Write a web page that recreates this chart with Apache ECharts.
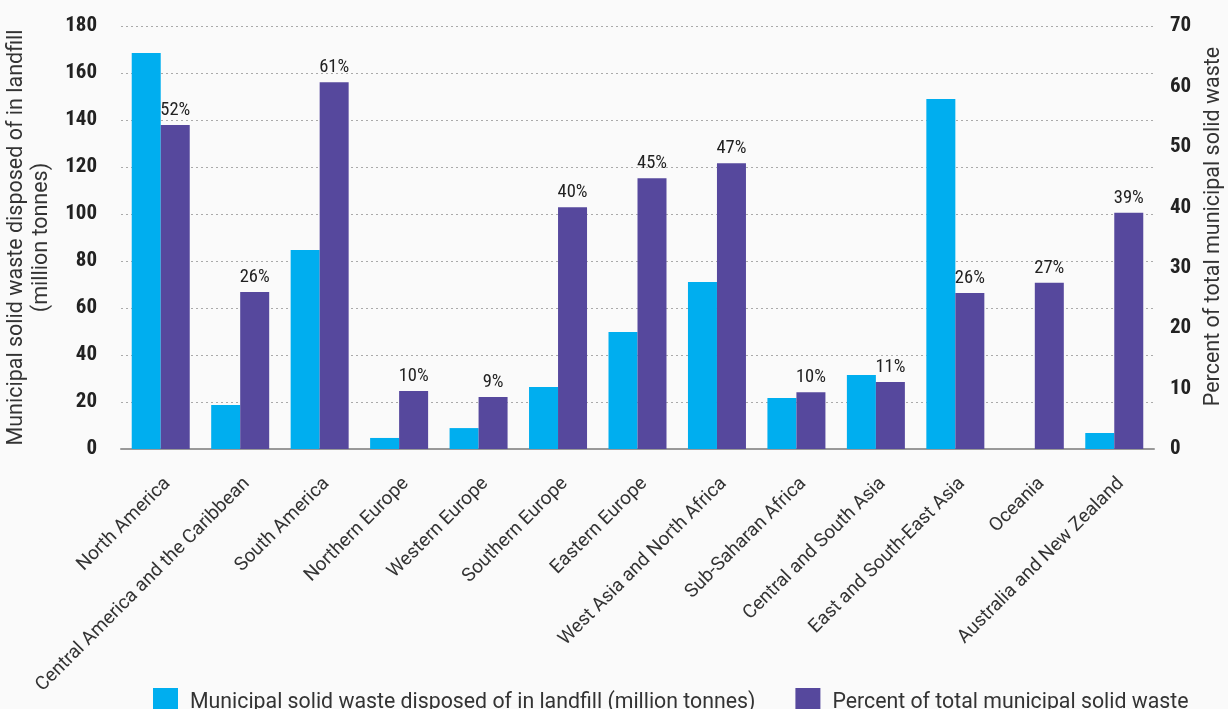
<!DOCTYPE html>
<html>
<head>
<meta charset="utf-8">
<script src="https://cdn.jsdelivr.net/npm/echarts@6/dist/echarts.min.js"></script>
<style>
html,body{margin:0;padding:0;background:#fafafa;}
#chart{width:1228px;height:709px;}
</style>
</head>
<body>
<div id="chart"></div>
<script>
const categories = ["North America","Central America and the Caribbean","South America","Northern Europe","Western Europe","Southern Europe","Eastern Europe","West Asia and North Africa","Sub-Saharan Africa","Central and South Asia","East and South-East Asia","Oceania","Australia and New Zealand"];
const landfillTonnes = [168.5, 18.7, 84.7, 4.7, 8.9, 26.4, 49.8, 71.1, 21.7, 31.5, 148.9, null, 6.8];
const percentValues = [53.6, 26.0, 60.7, 9.6, 8.6, 40.0, 44.8, 47.3, 9.4, 11.1, 25.8, 27.5, 39.1];
const percentLabels = ["52%","26%","61%","10%","9%","40%","45%","47%","10%","11%","26%","27%","39%"];
const leftTicks = [0, 20, 40, 60, 80, 100, 120, 140, 160, 180];
const rightTicks = [0, 10, 20, 30, 40, 50, 60, 70];
const seriesNames = ["Municipal solid waste disposed of in landfill (million tonnes)", "Percent of total municipal solid waste"];

const narrow = "'Roboto Condensed','Liberation Sans Narrow','DejaVu Sans Condensed',sans-serif";
const chart = echarts.init(document.getElementById('chart'));
chart.setOption({
  backgroundColor: '#fafafa',
  animation: false,
  textStyle: {fontFamily: 'Roboto, sans-serif'},
  grid: {left: 121, right: 74, top: 26, bottom: 260, containLabel: false, outerBoundsMode: 'none'},
  legend: {
    data: seriesNames,
    left: 148, top: 683, itemWidth: 25, itemHeight: 30, itemGap: 40,
    icon: 'rect',
    textStyle: {fontSize: 21.3, color: '#333', fontFamily: 'Roboto, sans-serif', padding: [0,0,0,7]}
  },
  xAxis: {
    type: 'category', data: categories,
    axisTick: {show: false},
    axisLine: {lineStyle: {color: '#999', width: 2}},
    axisLabel: {interval: 0, rotate: 45, fontSize: 19, color: '#333', margin: 25, verticalAlign: 'top'}
  },
  yAxis: [{
    type: 'value', min: leftTicks[0], max: leftTicks[leftTicks.length-1], interval: 20,
    name: 'Municipal solid waste disposed of in landfill\n(million tonnes)',
    nameLocation: 'middle', nameGap: 60, nameRotate: 90,
    nameTextStyle: {fontSize: 21.5, color: '#333', lineHeight: 25},
    axisLine: {show: false}, axisTick: {show: false},
    axisLabel: {fontSize: 21, fontWeight: 'bold', color: '#222', fontFamily: narrow, margin: 24},
    splitLine: {lineStyle: {type: [2,3], color: '#aaa', width: 1.2}}
  }, {
    type: 'value', min: rightTicks[0], max: rightTicks[rightTicks.length-1], interval: 10,
    name: 'Percent of total municipal solid waste',
    nameLocation: 'middle', nameGap: 45, nameRotate: 90,
    nameTextStyle: {fontSize: 21.5, color: '#333', padding: [0, 0, 0, 22]},
    axisLine: {show: false}, axisTick: {show: false},
    axisLabel: {fontSize: 21, fontWeight: 'bold', color: '#222', fontFamily: narrow, margin: 16},
    splitLine: {show: false}
  }],
  series: [{
    name: seriesNames[0], type: 'bar', yAxisIndex: 0, data: landfillTonnes,
    barWidth: 29, barGap: '0%',
    itemStyle: {color: '#00aeef'}
  }, {
    name: seriesNames[1], type: 'bar', yAxisIndex: 1, data: percentValues,
    barWidth: 29, barGap: '0%',
    itemStyle: {color: '#56489d'},
    label: {show: true, position: 'top', distance: 5, fontSize: 18.5, color: '#222', fontFamily: narrow,
      formatter: p => percentLabels[p.dataIndex]}
  }]
});
</script>
</body>
</html>
